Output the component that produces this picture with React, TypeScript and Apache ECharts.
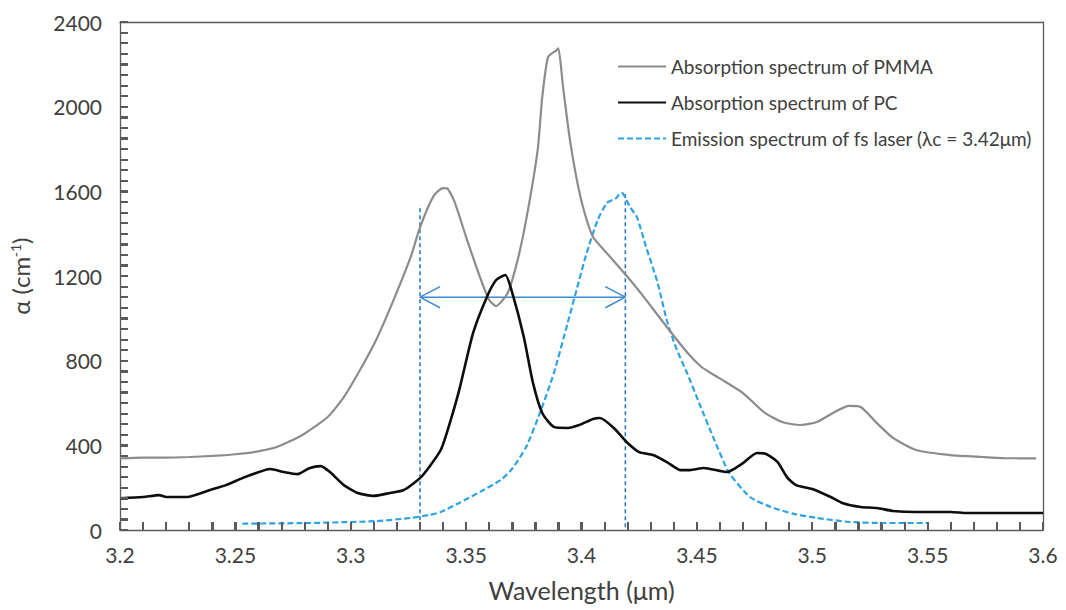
import React, { useEffect, useRef } from "react";
import * as echarts from "echarts";

const xTicks = [3.2, 3.25, 3.3, 3.35, 3.4, 3.45, 3.5, 3.55, 3.6];
const yTicks = [0, 400, 800, 1200, 1600, 2000, 2400];
const xTickStep = 0.01;
const yTickStep = 50;

const pmma: [number, number][] = [
  [3.2, 338], [3.21, 342], [3.22, 342], [3.23, 345], [3.24, 350], [3.25, 358],
  [3.258, 368], [3.268, 392], [3.279, 449], [3.29, 534], [3.297, 628], [3.304, 756],
  [3.311, 898], [3.318, 1072], [3.326, 1290], [3.33, 1430], [3.336, 1580], [3.34, 1615],
  [3.342, 1612], [3.345, 1550], [3.35, 1384], [3.356, 1195], [3.36, 1087], [3.363, 1058],
  [3.368, 1120], [3.372, 1261], [3.376, 1464], [3.381, 1795], [3.383, 2046], [3.3855, 2234],
  [3.389, 2265], [3.39, 2275], [3.392, 2093], [3.395, 1842], [3.398, 1653], [3.401, 1512],
  [3.405, 1384], [3.411, 1308], [3.42, 1195], [3.428, 1087], [3.437, 959], [3.446, 836],
  [3.452, 770], [3.456, 742], [3.461, 709], [3.47, 647], [3.479, 557], [3.487, 510],
  [3.495, 496], [3.502, 510], [3.509, 553], [3.516, 586], [3.521, 581], [3.528, 505],
  [3.535, 435], [3.545, 378], [3.56, 354], [3.574, 345], [3.583, 340], [3.597, 338],
];

const pc: [number, number][] = [
  [3.2, 150], [3.21, 156], [3.217, 165], [3.22, 156], [3.229, 156], [3.239, 189],
  [3.246, 212], [3.253, 245], [3.259, 269], [3.265, 288], [3.271, 274], [3.277, 264],
  [3.282, 292], [3.287, 302], [3.291, 274], [3.297, 212], [3.303, 175], [3.31, 161],
  [3.317, 175], [3.323, 189], [3.33, 245], [3.334, 298], [3.339, 378], [3.342, 472],
  [3.347, 661], [3.353, 930], [3.359, 1101], [3.363, 1181], [3.367, 1205], [3.37, 1120],
  [3.375, 912], [3.379, 694], [3.383, 553], [3.388, 487], [3.394, 482], [3.399, 496],
  [3.405, 524], [3.408, 529], [3.414, 482], [3.42, 411], [3.425, 368], [3.431, 354],
  [3.437, 321], [3.443, 283], [3.447, 283], [3.453, 293], [3.463, 274], [3.47, 316],
  [3.476, 364], [3.48, 359], [3.485, 321], [3.489, 250], [3.493, 212], [3.5, 194],
  [3.508, 156], [3.513, 128], [3.521, 109], [3.528, 104], [3.535, 90], [3.545, 85],
  [3.56, 85], [3.567, 80], [3.6, 80],
];

const emission: [number, number][] = [
  [3.253, 30], [3.282, 33], [3.311, 42], [3.326, 57], [3.334, 71], [3.339, 85],
  [3.347, 128], [3.356, 180], [3.365, 236], [3.37, 290], [3.376, 392], [3.382, 553],
  [3.388, 740], [3.394, 978], [3.398, 1140], [3.402, 1300], [3.407, 1464], [3.411, 1545],
  [3.415, 1568], [3.417, 1592], [3.418, 1590], [3.421, 1526], [3.424, 1479], [3.428, 1337],
  [3.433, 1167], [3.437, 990], [3.441, 860], [3.446, 735], [3.451, 600], [3.457, 440],
  [3.464, 270], [3.473, 156], [3.482, 109], [3.492, 76], [3.502, 57], [3.516, 38],
  [3.531, 33], [3.55, 33],
];

const bandLeft: [number, number][] = [[3.33, -20], [3.33, 1535]];
const bandRight: [number, number][] = [[3.419, -20], [3.419, 1590]];
const arrowShaft: [number, number][] = [[3.33, 1100], [3.419, 1100]];
const arrowHeadLeft: [number, number][] = [[3.3387, 1150], [3.33, 1100], [3.3387, 1050]];
const arrowHeadRight: [number, number][] = [[3.4103, 1150], [3.419, 1100], [3.4103, 1050]];

const seriesNames = [
  "Absorption spectrum of PMMA",
  "Absorption spectrum of PC",
  "Emission spectrum of fs laser (λc = 3.42μm)",
];

const FONT = "Lato";
const TEXT = "#404040";
const AXIS = "#5a5a5a";

export default function App() {
  const ref = useRef<HTMLDivElement>(null);
  useEffect(() => {
    document.body.style.margin = "0";
    const chart = echarts.init(ref.current!, undefined, { renderer: "svg" });
    const annot = (data: [number, number][], color: string, type: any, width: number) => ({
      type: "line",
      data,
      showSymbol: false,
      symbol: "none",
      silent: true,
      lineStyle: { color, width, type },
      z: 1,
    });
    const xMin = xTicks[0];
    const xMax = xTicks[xTicks.length - 1];
    const yMin = yTicks[0];
    const yMax = yTicks[yTicks.length - 1];
    const xTickData: [number, number][] = [];
    for (let i = 0; i <= Math.round((xMax - xMin) / xTickStep); i++) {
      xTickData.push([Number((xMin + i * xTickStep).toFixed(3)), yMin]);
    }
    const yTickData: [number, number][] = [];
    for (let i = 0; i <= Math.round((yMax - yMin) / yTickStep); i++) {
      yTickData.push([xMin, yMin + i * yTickStep]);
    }
    const tickSeries = (data: [number, number][], dir: "up" | "right") => ({
      type: "custom",
      coordinateSystem: "cartesian2d",
      silent: true,
      clip: false,
      z: 6,
      data,
      encode: { x: 0, y: 1 },
      renderItem: (_p: any, api: any) => {
        const pt = api.coord([api.value(0), api.value(1)]);
        const x = Math.round(pt[0]);
        const y = Math.round(pt[1]);
        return {
          type: "line",
          shape:
            dir === "up"
              ? { x1: x, y1: y, x2: x, y2: y - 8 }
              : { x1: x, y1: y, x2: x + 8, y2: y },
          style: { stroke: AXIS, lineWidth: 2, fill: null },
        };
      },
    });
    const nativeTick = () => ({ show: true, inside: true, length: 8, lineStyle: { color: AXIS, width: 2 } });
    const nativeMinor = (n: number) => ({ show: true, splitNumber: n, length: 8, lineStyle: { color: AXIS, width: 2 } });
    const frameLine = () => ({ show: true, onZero: false, lineStyle: { color: AXIS, width: 1.3 } });
    chart.setOption({
      animation: false,
      backgroundColor: "#ffffff",
      textStyle: { fontFamily: FONT },
      grid: { left: 120, right: 23, top: 22, bottom: 80 },
      legend: {
        data: seriesNames,
        orient: "vertical",
        left: 612,
        top: 52,
        itemWidth: 48,
        itemHeight: 14,
        itemGap: 17,
        itemStyle: { opacity: 0 },
        textStyle: { color: TEXT, fontSize: 19, fontFamily: FONT },
      },
      xAxis: [
        {
          type: "value",
          min: xMin,
          max: xMax,
          interval: 0.05,
          name: "Wavelength (μm)",
          nameLocation: "middle",
          nameGap: 47,
          nameTextStyle: { color: TEXT, fontSize: 25, fontFamily: FONT },
          axisLine: frameLine(),
          axisTick: nativeTick(),
          minorTick: nativeMinor(5),
          splitLine: { show: false },
          axisLabel: {
            color: TEXT,
            fontSize: 21,
            margin: 14,
            formatter: (v: number) => {
              const t = xTicks.find((k) => Math.abs(k - v) < 1e-6);
              return t !== undefined ? String(t) : "";
            },
          },
        },
        {
          type: "value",
          position: "top",
          min: xMin,
          max: xMax,
          axisLine: frameLine(),
          axisTick: { show: false },
          axisLabel: { show: false },
          splitLine: { show: false },
        },
      ],
      yAxis: [
        {
          type: "value",
          min: yMin,
          max: yMax,
          interval: 400,
          name: "α (cm{sup|-1})",
          nameLocation: "middle",
          nameGap: 88,
          nameTextStyle: {
            color: TEXT,
            fontSize: 24,
            fontFamily: FONT,
            rich: { sup: { fontSize: 14, verticalAlign: "top", color: TEXT, padding: [0, 0, 10, 0] } },
          },
          axisLine: frameLine(),
          axisTick: nativeTick(),
          minorTick: nativeMinor(8),
          splitLine: { show: false },
          axisLabel: {
            color: TEXT,
            fontSize: 21,
            margin: 18,
            formatter: (v: number) => (yTicks.includes(v) ? String(v) : ""),
          },
        },
        {
          type: "value",
          position: "right",
          min: yMin,
          max: yMax,
          axisLine: frameLine(),
          axisTick: { show: false },
          axisLabel: { show: false },
          splitLine: { show: false },
        },
      ],
      series: [
        tickSeries(xTickData, "up"),
        tickSeries(yTickData, "right"),
        annot(bandLeft, "#2e7cc4", [4, 3], 1.6),
        annot(bandRight, "#2e7cc4", [4, 3], 1.6),
        annot(arrowShaft, "#3d8ad0", "solid", 1.5),
        annot(arrowHeadLeft, "#3d8ad0", "solid", 1.5),
        annot(arrowHeadRight, "#3d8ad0", "solid", 1.5),
        {
          name: seriesNames[0],
          type: "line",
          data: pmma,
          showSymbol: false,
          symbol: "none",
          smooth: 0.2,
          lineStyle: { color: "#8c8c8c", width: 2.2 },
          itemStyle: { color: "#8c8c8c" },
          z: 3,
        },
        {
          name: seriesNames[1],
          type: "line",
          data: pc,
          showSymbol: false,
          symbol: "none",
          smooth: 0.2,
          lineStyle: { color: "#0d0d0d", width: 2.6 },
          itemStyle: { color: "#0d0d0d" },
          z: 4,
        },
        {
          name: seriesNames[2],
          type: "line",
          data: emission,
          showSymbol: false,
          symbol: "none",
          smooth: 0.2,
          lineStyle: { color: "#2ea3e3", width: 2.2, type: [6, 3] },
          itemStyle: { color: "#2ea3e3" },
          z: 2,
        },
      ],
    });
    return () => chart.dispose();
  }, []);
  return <div ref={ref} style={{ width: 1066, height: 610 }} />;
}
